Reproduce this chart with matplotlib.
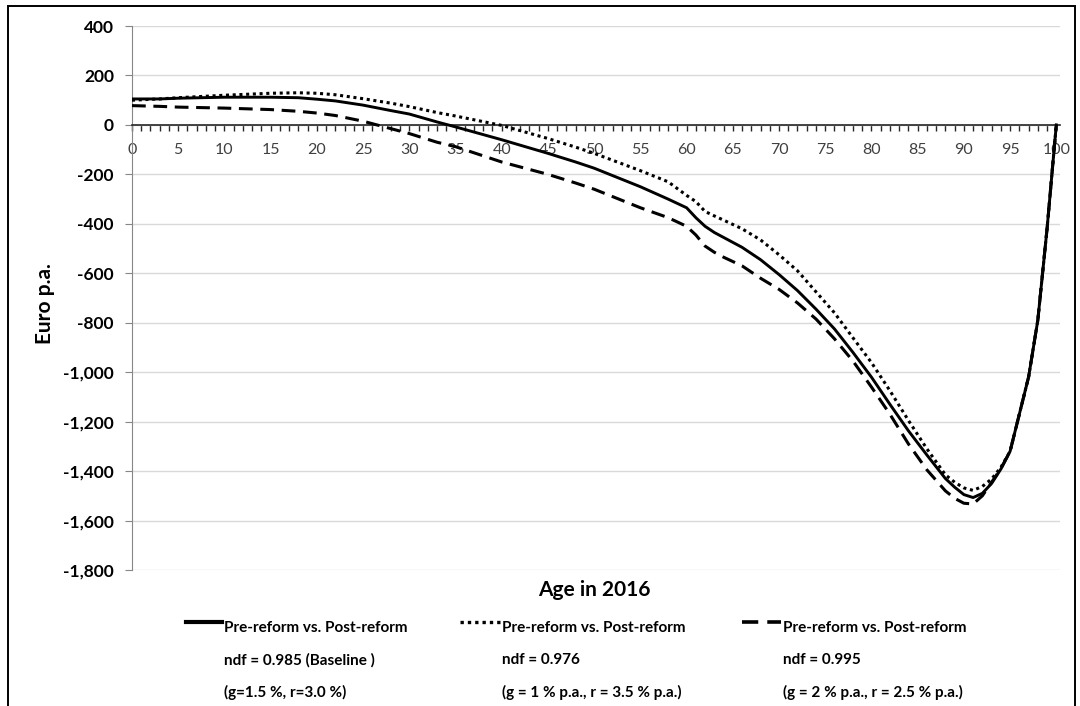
import matplotlib.pyplot as plt
from matplotlib.lines import Line2D
from matplotlib.patches import Rectangle
from matplotlib.ticker import MultipleLocator, FuncFormatter

# ages (denser where the curves bend)
ages = [0, 3, 5, 10, 15, 18, 20, 22, 25, 28, 30, 33, 35, 40, 45, 48, 50, 55, 58,
        60, 61, 62, 63, 64, 66, 68, 70, 72, 74, 76, 78, 80, 82, 84, 86, 88, 89,
        90, 91, 92, 93, 94, 95, 96, 97, 98, 99, 100]

# baseline, ndf = 0.985
baseline = [105, 105, 108, 112, 112, 110, 104, 97, 80, 58, 44, 12, -8, -60, -115,
            -150, -175, -250, -300, -335, -375, -410, -435, -455, -495, -545, -605,
            -670, -745, -825, -920, -1020, -1130, -1237, -1335, -1430, -1465,
            -1495, -1507, -1490, -1450, -1392, -1320, -1170, -1020, -790, -420, 0]

# ndf = 0.976
ndf_976 = [100, 105, 110, 120, 128, 130, 128, 122, 106, 88, 74, 50, 36, -2, -55,
           -90, -115, -185, -230, -285, -310, -350, -368, -385, -420, -465, -525,
           -590, -675, -760, -861, -961, -1075, -1195, -1310, -1415, -1445,
           -1468, -1478, -1462, -1432, -1385, -1320, -1170, -1020, -790, -420, 0]

# ndf = 0.995
ndf_995 = [78, 75, 72, 68, 62, 55, 48, 38, 15, -15, -35, -70, -88, -150, -200,
           -235, -260, -335, -375, -410, -445, -490, -515, -535, -570, -620, -665,
           -720, -785, -865, -955, -1060, -1170, -1290, -1395, -1480, -1510,
           -1530, -1533, -1500, -1445, -1390, -1320, -1170, -1020, -790, -420, 0]

legend_texts = [
    ["Pre-reform vs. Post-reform", "ndf = 0.985 (Baseline )", "(g=1.5 %, r=3.0 %)"],
    ["Pre-reform vs. Post-reform", "ndf = 0.976", "(g = 1 % p.a., r = 3.5 % p.a.)"],
    ["Pre-reform vs. Post-reform", "ndf = 0.995", "(g = 2 % p.a., r = 2.5 % p.a.)"],
]

plt.rcParams['font.family'] = ['Lato', 'DejaVu Sans']

fig = plt.figure(figsize=(10.8, 7.06), dpi=100)
ax = fig.add_axes([132 / 1080, 1 - 570 / 706, 928 / 1080, 544 / 706])

solid_ls = '-'
dot_ls = (0, (1, 1.2))
dash_ls = (0, (4.5, 2.5))

ax.plot(ages, baseline, color='black', lw=2.1, ls=solid_ls, zorder=4)
ax.plot(ages, ndf_976, color='black', lw=2.2, ls=dot_ls, zorder=3)
ax.plot(ages, ndf_995, color='black', lw=2.2, ls=dash_ls, zorder=3)

ax.set_xlim(0, 100.4)
ax.set_ylim(-1800, 400)

ax.yaxis.set_major_locator(MultipleLocator(200))
ax.yaxis.set_major_formatter(FuncFormatter(lambda v, p: f"{int(v):,}"))
ax.xaxis.set_major_locator(MultipleLocator(5))
ax.xaxis.set_minor_locator(MultipleLocator(1))

ax.grid(axis='y', color='#d9d9d9', lw=1.0, zorder=0)
ax.set_axisbelow(True)

for s in ['top', 'right']:
    ax.spines[s].set_visible(False)
ax.spines['left'].set_color('#868686')
ax.spines['bottom'].set_position(('data', 0))
ax.spines['bottom'].set_color('#262626')
ax.spines['bottom'].set_linewidth(1.2)

ax.tick_params(axis='y', direction='out', length=5, color='#868686', pad=8,
               labelsize=12.5)
for lab in ax.get_yticklabels():
    lab.set_fontweight('bold')
ax.tick_params(axis='x', which='both', direction='out', length=4, color='#262626',
               width=1)
ax.tick_params(axis='x', which='major', pad=9, labelsize=11.5, labelcolor='#404040')

# axis titles
fig.text(45 / 1080, 1 - 304 / 706, "Euro p.a.", rotation=90, ha='center',
         va='center', fontsize=15, fontweight='bold')
fig.text(594 / 1080, 1 - 590 / 706, "Age in 2016", ha='center', va='center',
         fontsize=15, fontweight='bold')

# legend drawn by hand: sample line on top of three text rows
styles = [(solid_ls, 3.0), (dot_ls, 2.4), (dash_ls, 2.6)]
sample_x = [(186, 222), (460, 500), (742, 781)]
for (ls, lw), (x0, x1), rows in zip(styles, sample_x, legend_texts):
    fig.add_artist(Line2D([x0 / 1080, x1 / 1080], [1 - 622 / 706] * 2,
                          color='black', lw=lw, ls=ls, transform=fig.transFigure))
    for k, row in enumerate(rows):
        fig.text((x1 + 2) / 1080, 1 - (628 + 32 * k) / 706, row, ha='left',
                 va='center', fontsize=11, fontweight='bold')

fig.add_artist(Rectangle((8 / 1080, -0.05), 1067 / 1080, 1.05 - 6 / 706,
                         fill=False, edgecolor='black', lw=1.4,
                         transform=fig.transFigure))

fig.savefig("out.png", dpi=100)
